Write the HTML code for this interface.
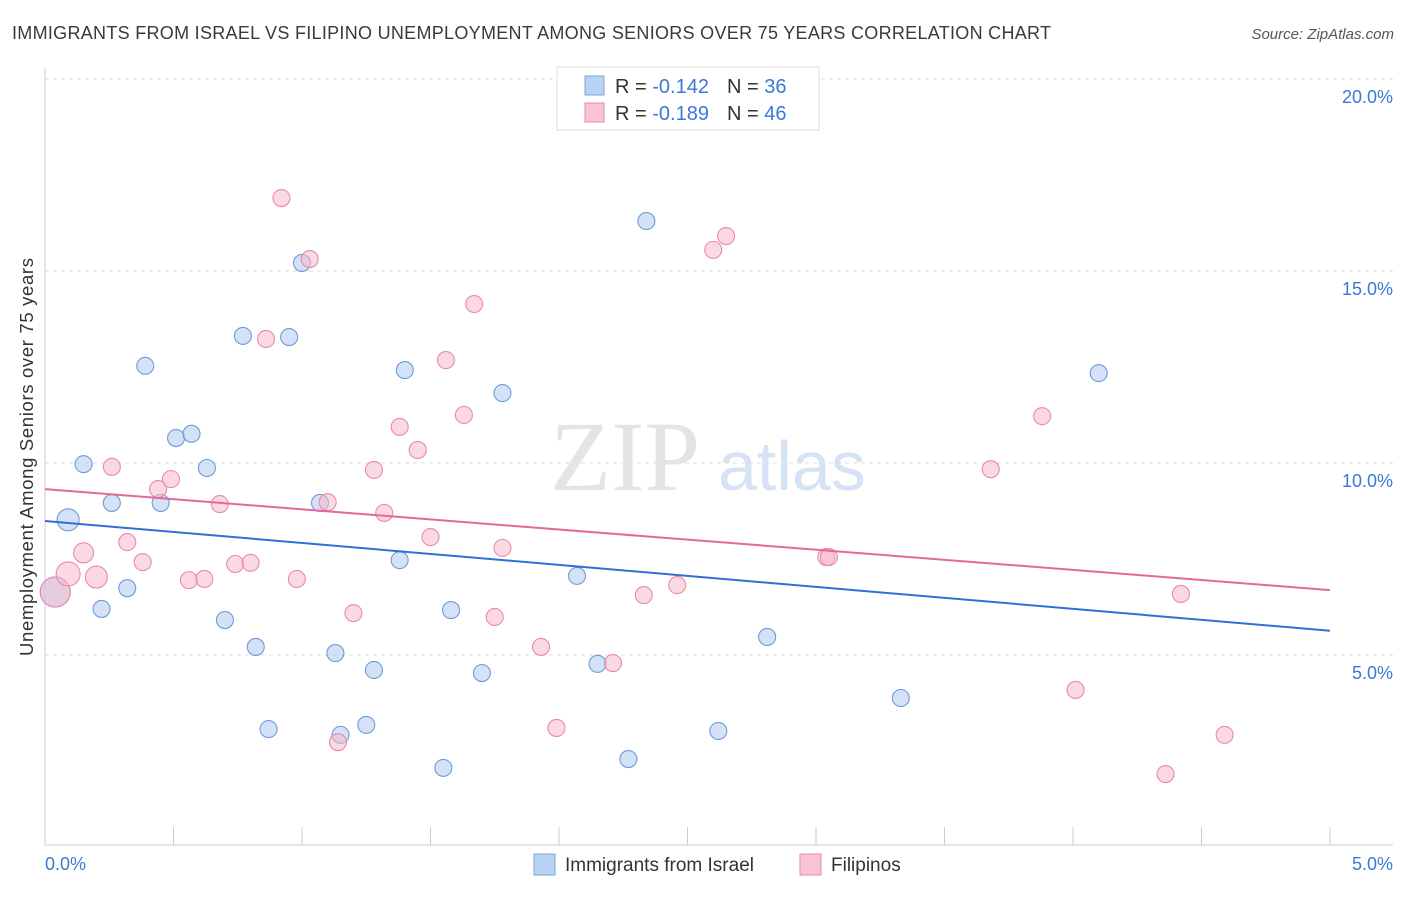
<!DOCTYPE html>
<html><head><meta charset="utf-8"><style>
body{margin:0;background:#fff;font-family:"Liberation Sans",sans-serif;}
</style></head><body>
<svg width="1406" height="892" viewBox="0 0 1406 892" xmlns="http://www.w3.org/2000/svg">
<text x="12" y="39" font-size="18" fill="#3a3a3a" textLength="1039" lengthAdjust="spacing">IMMIGRANTS FROM ISRAEL VS FILIPINO UNEMPLOYMENT AMONG SENIORS OVER 75 YEARS CORRELATION CHART</text>
<text x="1394" y="39" font-size="15" fill="#555" text-anchor="end" font-style="italic">Source: ZipAtlas.com</text>
<g id="grid"></g>
<text x="700" y="490" font-size="100" fill="#e4e4e4" text-anchor="end" font-family="Liberation Serif,serif">ZIP</text>
<text x="718" y="490" font-size="70" fill="#d6e3f5">atlas</text>
<g id="axes"></g>
<g id="marks"></g>
<text transform="translate(33,457) rotate(-90)" font-size="18.5" fill="#333" text-anchor="middle" textLength="398">Unemployment Among Seniors over 75 years</text>
<g>
<rect x="557" y="67" width="262" height="63" fill="#fff" stroke="#ddd"/>
<rect x="585" y="76" width="19" height="19" fill="#b9d3f3" stroke="#7aa5dd"/>
<rect x="585" y="103" width="19" height="19" fill="#f8c3d3" stroke="#e98aaa"/>
<text x="615" y="93" font-size="20" fill="#333">R = <tspan fill="#3b78d8">-0.142</tspan><tspan dx="18">N = </tspan><tspan fill="#3b78d8">36</tspan></text>
<text x="615" y="120" font-size="20" fill="#333">R = <tspan fill="#3b78d8">-0.189</tspan><tspan dx="18">N = </tspan><tspan fill="#3b78d8">46</tspan></text>
</g>
<g>
<rect x="534" y="854" width="21" height="21" fill="#b9d3f3" stroke="#7aa5dd"/>
<text x="565" y="871" font-size="19" fill="#333">Immigrants from Israel</text>
<rect x="800" y="854" width="21" height="21" fill="#f8c3d3" stroke="#e98aaa"/>
<text x="831" y="871" font-size="19" fill="#333">Filipinos</text>
</g>
</svg>
<script>
const blueX=[0.04,0.09,0.15,0.22,0.26,0.32,0.39,0.45,0.51,0.57,0.63,0.70,0.77,0.82,0.87,0.95,1.00,1.07,1.13,1.15,1.25,1.28,1.38,1.40,1.55,1.58,1.70,1.78,2.07,2.15,2.27,2.34,2.62,2.81,3.33,4.10];
const blueY=[6.64,8.52,9.97,6.20,8.96,6.74,12.53,8.96,10.65,10.76,9.87,5.91,13.31,5.21,3.07,13.28,15.21,8.96,5.05,2.92,3.18,4.61,7.47,12.42,2.06,6.17,4.53,11.82,7.06,4.77,2.29,16.30,3.02,5.47,3.88,12.34];
const pinkX=[0.04,0.09,0.15,0.20,0.26,0.32,0.38,0.44,0.49,0.56,0.62,0.68,0.74,0.80,0.86,0.92,0.98,1.03,1.10,1.14,1.20,1.28,1.32,1.38,1.45,1.50,1.56,1.63,1.67,1.75,1.78,1.93,1.99,2.21,2.33,2.46,2.60,2.65,3.04,3.05,3.68,3.88,4.01,4.36,4.42,4.59];
const pinkY=[6.64,7.11,7.66,7.03,9.90,7.94,7.42,9.32,9.58,6.95,6.98,8.93,7.37,7.40,13.23,16.90,6.98,15.31,8.98,2.73,6.09,9.82,8.70,10.94,10.34,8.07,12.68,11.25,14.14,5.99,7.79,5.21,3.10,4.79,6.56,6.82,15.55,15.91,7.55,7.55,9.84,11.22,4.09,1.90,6.59,2.92];
const blueTrend=[8.49,5.63];
const pinkTrend=[9.32,6.69];
const yTicks=[5,10,15,20];
const yTickLabels=["5.0%","10.0%","15.0%","20.0%"];
const xTickLabels=["0.0%","5.0%"];
const NS="http://www.w3.org/2000/svg";
const sx=v=>45+v*257, sy=v=>847-v*38.4;
function mk(t,a,p){const e=document.createElementNS(NS,t);for(const k in a)e.setAttribute(k,a[k]);p.appendChild(e);return e;}
const grid=document.getElementById('grid'),axes=document.getElementById('axes'),marks=document.getElementById('marks');
yTicks.forEach((v,i)=>{
 const l=mk('line',{x1:45,x2:1393,y1:sy(v),y2:sy(v),stroke:'#ddd','stroke-dasharray':'4,4'},grid);
 
 
 const t=mk('text',{x:1393,y:sy(v)+24,'font-size':18,fill:'#3b78d8','text-anchor':'end'},axes);
 t.textContent=yTickLabels[i];
 
 
});
mk('line',{x1:45,x2:45,y1:68,y2:845,stroke:'#ccc'},axes);
mk('line',{x1:45,x2:1393,y1:845,y2:845,stroke:'#ccc'},axes);
for(let i=0;i<=10;i++){const x=sx(i*0.5);mk('line',{x1:x,x2:x,y1:827,y2:845,stroke:'#ccc'},axes);}
[[0,45,'start'],[1,1393,'end']].forEach(([i,x,a])=>{
 const t=mk('text',{x:x,y:870,'font-size':18,fill:'#3b78d8','text-anchor':a},axes);
 t.textContent=xTickLabels[i];
 
 
});
const bigBlue={0:15,1:11};
const bigPink={0:15,1:12,2:10,3:11};
function pts(X,Y,fill,stroke,name,big){
 X.forEach((x,i)=>{
  const r=big[i]||8.5;
  const c=mk('circle',{cx:sx(x),cy:sy(Y[i]),r:r,fill:fill,'fill-opacity':0.55,stroke:stroke,'stroke-width':1.1},marks);
  
  
 });
}
pts(blueX,blueY,'#aecbf0','#6f9bd8','point-israel',bigBlue);
pts(pinkX,pinkY,'#f7bacd','#e88aa9','point-filipinos',bigPink);
const bl=mk('line',{x1:sx(0),y1:sy(blueTrend[0]),x2:sx(5),y2:sy(blueTrend[1]),stroke:'#2f6fd6','stroke-width':2},marks);


const pl=mk('line',{x1:sx(0),y1:sy(pinkTrend[0]),x2:sx(5),y2:sy(pinkTrend[1]),stroke:'#e36a96','stroke-width':2},marks);


</script>
</body></html>
